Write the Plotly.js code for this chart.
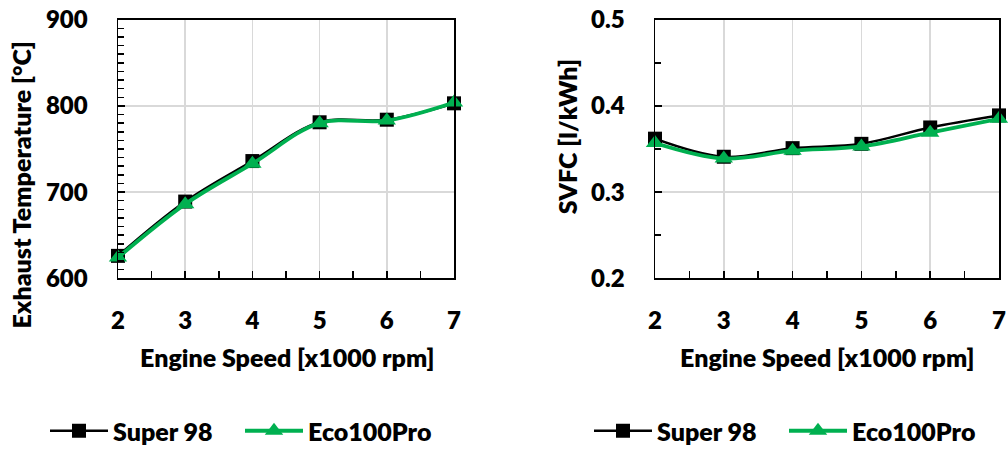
<!DOCTYPE html>
<html>
<head>
<meta charset="utf-8">
<script src="https://cdn.plot.ly/plotly-3.0.1.min.js"></script>
<style>
html,body{margin:0;padding:0;background:#fff;}
#chart{width:1008px;height:454px;}
</style>
</head>
<body>
<div id="chart"></div>
<script>
// ---- data ----
const speed = [2, 3, 4, 5, 6, 7];
const exhaustSuper98 = [626, 689, 736, 781, 784, 803];
const exhaustEco100Pro = [624, 686, 733, 780, 783, 804];
const svfcSuper98 = [0.362, 0.341, 0.351, 0.356, 0.375, 0.389];
const svfcEco100Pro = [0.357, 0.339, 0.348, 0.353, 0.369, 0.385];
const seriesNames = ["Super 98", "Eco100Pro"];
const xTitle = "Engine Speed [x1000 rpm]";
const yTitleLeft = "Exhaust Temperature [°C]";
const yTitleRight = "SVFC [l/kWh]";

// ---- style ----
const FONT = "Lato, 'Open Sans', sans-serif";
const WEIGHT = 800;
const BLACK = "#000000";
const GREEN = "#00B050";
const W = 1008, H = 454;
const px = v => v / W;
const py = v => 1 - v / H;

function superTrace(x, y, xa, ya, legend) {
  return {
    x: x, y: y, xaxis: xa, yaxis: ya, name: seriesNames[0],
    type: "scatter", mode: "lines+markers",
    line: {color: BLACK, width: 2.5, shape: "spline", smoothing: 1},
    marker: {symbol: "square", size: 14, color: BLACK},
    legend: legend, showlegend: true, cliponaxis: false
  };
}
function ecoTrace(x, y, xa, ya, legend) {
  return {
    x: x, y: y, xaxis: xa, yaxis: ya, name: seriesNames[1],
    type: "scatter", mode: "lines+markers",
    line: {color: GREEN, width: 3.8, shape: "spline", smoothing: 1},
    marker: {symbol: "triangle-up", size: 16, color: GREEN},
    legend: legend, showlegend: true, cliponaxis: false
  };
}

const data = [
  superTrace(speed, exhaustSuper98, "x", "y", "legend"),
  ecoTrace(speed, exhaustEco100Pro, "x", "y", "legend2"),
  superTrace(speed, svfcSuper98, "x2", "y2", "legend3"),
  ecoTrace(speed, svfcEco100Pro, "x2", "y2", "legend4")
];

function xAxis(domain, anchor) {
  return {
    domain: domain, anchor: anchor, range: [2, 7], dtick: 1, tick0: 2,
    showline: true, linecolor: BLACK, linewidth: 1.5, mirror: true,
    ticks: "inside", ticklen: 7, tickwidth: 1.5, tickcolor: BLACK,
    ticklabelstandoff: 20,
    showgrid: true, gridcolor: "#d9d9d9", gridwidth: 1.5, zeroline: false,
    minor: {ticks: "inside", dtick: 0.5, ticklen: 7, tickwidth: 1.5, tickcolor: BLACK, showgrid: false},
    tickfont: {family: FONT, size: 24, color: BLACK, weight: WEIGHT},
    fixedrange: true
  };
}
function yAxis(domain, anchor, range, dtick, minorDtick, fmt) {
  return {
    domain: domain, anchor: anchor, range: range, dtick: dtick, tick0: range[0],
    showline: true, linecolor: BLACK, linewidth: 1.5, mirror: true,
    ticks: "inside", ticklen: 7, tickwidth: 1.5, tickcolor: BLACK,
    ticklabelstandoff: 24, tickformat: fmt,
    showgrid: true, gridcolor: "#d9d9d9", gridwidth: 1.5, zeroline: false,
    minor: {ticks: "inside", dtick: minorDtick, ticklen: 6, tickwidth: 1.5, tickcolor: BLACK, showgrid: false},
    tickfont: {family: FONT, size: 24, color: BLACK, weight: WEIGHT},
    fixedrange: true
  };
}

const yDom = [py(282), py(20)];
const legendFont = {family: FONT, size: 25, color: BLACK, weight: WEIGHT};
const titleFont = {family: FONT, size: 25, color: BLACK, weight: WEIGHT};

function legendAt(xpx) {
  return {
    orientation: "h", x: px(xpx), xanchor: "left", y: py(437), yanchor: "middle",
    font: legendFont, bgcolor: "rgba(0,0,0,0)", itemwidth: 58
  };
}

const layout = {
  width: W, height: H,
  margin: {l: 0, r: 0, t: 0, b: 0},
  paper_bgcolor: "#ffffff", plot_bgcolor: "#ffffff",
  font: {family: FONT, color: BLACK},
  xaxis: xAxis([px(118), px(454)], "y"),
  yaxis: yAxis(yDom, "x", [600, 900], 100, 10, "d"),
  xaxis2: xAxis([px(655), px(999)], "y2"),
  yaxis2: yAxis(yDom, "x2", [0.2, 0.5], 0.1, 0.05, ".1f"),
  legend: legendAt(45),
  legend2: legendAt(240),
  legend3: legendAt(589),
  legend4: legendAt(784),
  annotations: [
    {text: xTitle, xref: "paper", yref: "paper", x: px(287), y: py(362), xanchor: "center", yanchor: "middle", showarrow: false, font: titleFont},
    {text: xTitle, xref: "paper", yref: "paper", x: px(827), y: py(362), xanchor: "center", yanchor: "middle", showarrow: false, font: titleFont},
    {text: yTitleLeft, xref: "paper", yref: "paper", x: px(21), y: py(188), xanchor: "center", yanchor: "middle", textangle: -90, showarrow: false, font: titleFont},
    {text: yTitleRight, xref: "paper", yref: "paper", x: px(567), y: py(139), xanchor: "center", yanchor: "middle", textangle: -90, showarrow: false, font: titleFont}
  ],
  showlegend: true
};

Plotly.newPlot("chart", data, layout, {displayModeBar: false, staticPlot: true});
</script>
</body>
</html>
